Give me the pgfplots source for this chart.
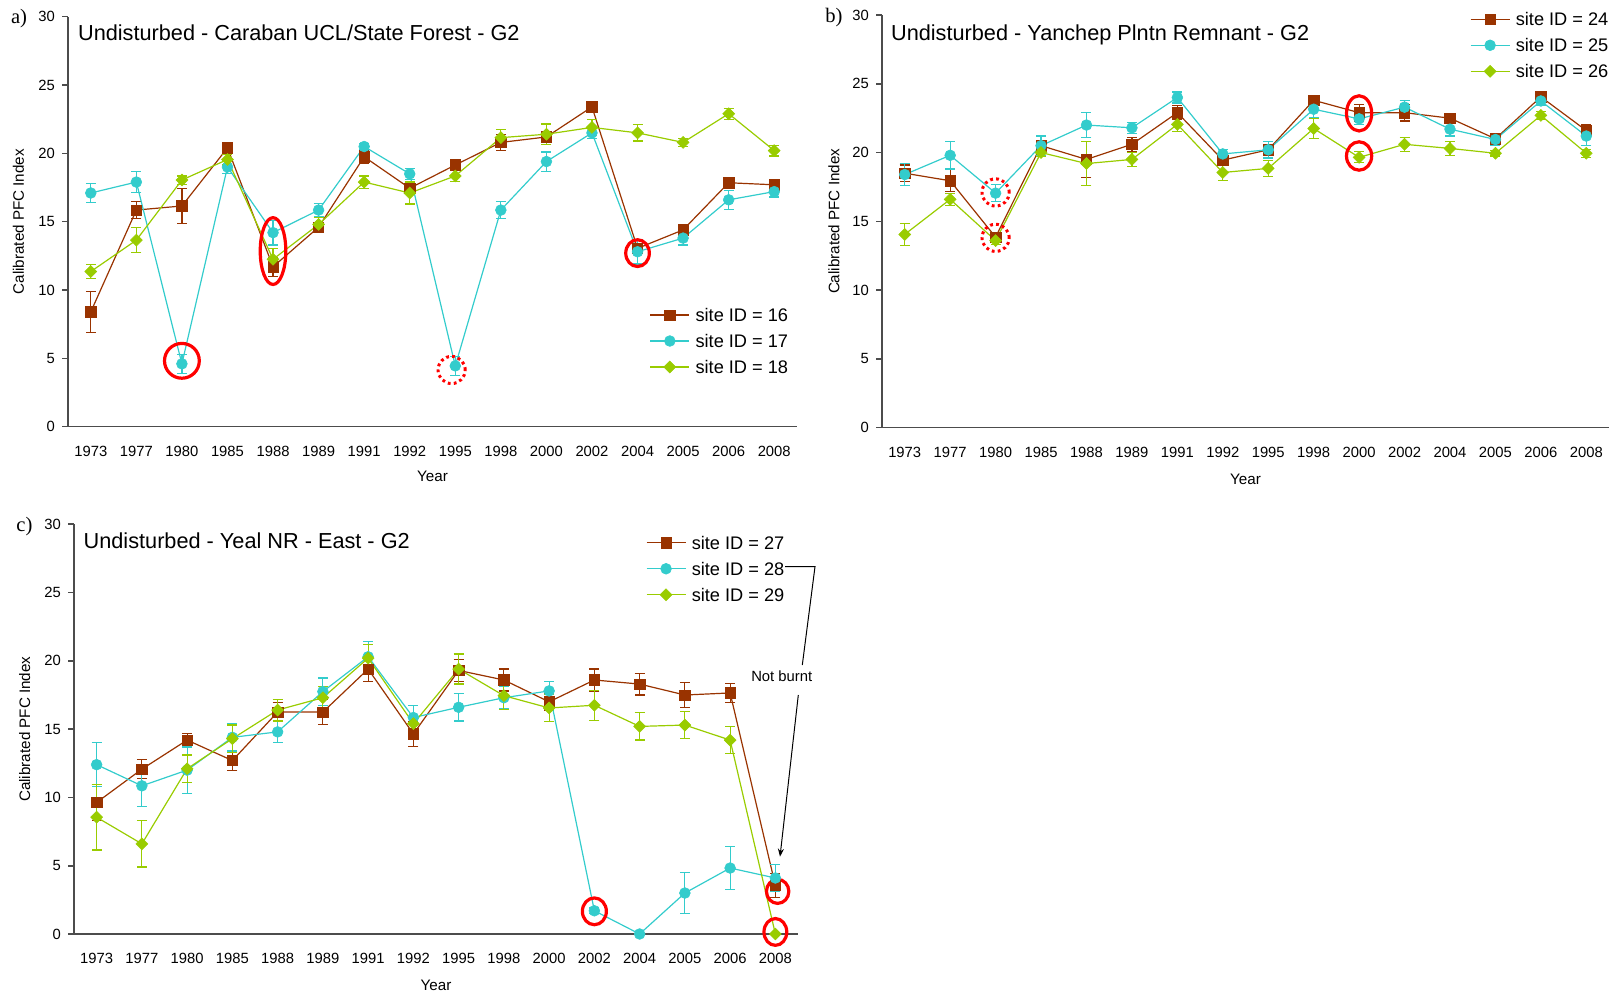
\documentclass[border=0pt]{standalone}
\usepackage{pgfplots}
\pgfplotsset{compat=1.18}
\usepackage{pgfplotstable}
\usepackage{fontspec}
\setmainfont{Liberation Sans}
\newfontfamily\timesfont{Liberation Serif}
\usetikzlibrary{arrows.meta}
\definecolor{cbrown}{HTML}{993300}
\definecolor{ccyan}{HTML}{33CCCC}
\definecolor{cgreen}{HTML}{99CC00}

\pgfplotstableread{
x a ea b eb c ec
0 8.4 1.5 17.1 0.7 11.35 0.5
1 15.85 0.6 17.9 0.75 13.65 0.9
2 16.15 1.3 4.6 0.7 18.05 0.3
3 20.4 0.3 19.0 0.5 19.55 0.4
4 11.7 0.7 14.2 0.9 12.25 0.8
5 14.6 0.3 15.85 0.5 14.8 0.5
6 19.75 0.5 20.5 0.2 17.9 0.45
7 17.45 0.4 18.5 0.4 17.1 0.8
8 19.15 0.2 4.45 0.7 18.35 0.4
9 20.8 0.6 15.85 0.6 21.15 0.6
10 21.2 0.4 19.4 0.7 21.4 0.75
11 23.4 0.2 21.5 0.4 21.9 0.6
12 13.05 0.3 12.8 0.9 21.5 0.6
13 14.4 0.3 13.8 0.5 20.8 0.3
14 17.85 0.4 16.6 0.7 22.9 0.4
15 17.7 0.3 17.2 0.4 20.2 0.4
}\tabA

\pgfplotstableread{
x a ea b eb c ec
0 18.5 0.6 18.4 0.8 14.05 0.8
1 17.95 0.8 19.8 1.0 16.6 0.45
2 13.85 0.3 17.05 0.6 13.6 0.3
3 20.5 0.4 20.5 0.7 20.0 0.3
4 19.5 1.3 22.0 0.9 19.2 1.6
5 20.6 0.5 21.8 0.4 19.5 0.5
6 22.9 0.5 24.0 0.4 22.05 0.5
7 19.45 0.4 19.9 0.35 18.55 0.6
8 20.2 0.3 20.2 0.6 18.85 0.6
9 23.8 0.3 23.15 0.6 21.75 0.7
10 22.9 0.6 22.45 0.4 19.65 0.4
11 22.9 0.6 23.3 0.5 20.6 0.5
12 22.5 0.3 21.7 0.5 20.3 0.5
13 21.0 0.3 20.95 0.4 19.95 0.2
14 24.05 0.3 23.75 0.3 22.7 0.3
15 21.6 0.4 21.2 0.7 19.95 0.3
}\tabB

\pgfplotstableread{
x a ea b eb c ec
0 9.63 1.3 12.4 1.6 8.55 2.4
1 12.07 0.7 10.85 1.5 6.6 1.7
2 14.2 0.5 12.0 1.7 12.1 1.0
3 12.7 0.7 14.4 1.0 14.3 1.0
4 16.25 0.7 14.8 0.8 16.4 0.8
5 16.25 0.9 17.75 1.0 17.3 0.8
6 19.4 0.9 20.3 1.1 20.2 1.0
7 14.65 0.9 15.85 0.9 15.4 0.5
8 19.3 0.8 16.6 1.0 19.4 1.1
9 18.6 0.8 17.3 0.8 17.45 1.0
10 17.0 0.6 17.8 0.7 16.55 1.0
11 18.6 0.8 1.7 0.2 16.75 1.1
12 18.3 0.8 0.0 0.0 15.2 1.0
13 17.5 0.9 3.0 1.5 15.3 1.0
14 17.65 0.7 4.83 1.6 14.2 1.0
15 3.55 0.9 4.1 1.0 0.0 0.0
}\tabC

\tikzset{
 solidring/.style={red, line width=1.6pt},
 dotring/.style={red, line width=1.5pt, dash pattern=on 1.4pt off 1.6pt},
}

\pgfplotsset{
 panel/.style={
  scale only axis,
  anchor=south west,
  axis lines=left,
  axis line style={-, line width=0.8pt, black!70},
  xmin=-0.5, xmax=15.5, ymin=0, ymax=30,
  xtick={0,...,15},
  xticklabels={1973,1977,1980,1985,1988,1989,1991,1992,1995,1998,2000,2002,2004,2005,2006,2008},
  x tick style={draw=none},
  minor xtick={0.5,1.5,...,15.5},
  minor x tick style={line width=0.8pt, black!70},
  minor tick length=2.2pt,
  tick align=inside,
  ytick={0,5,...,30},
  major tick length=3pt,
  y tick style={line width=0.8pt, black!70, xshift=-3pt},
  yticklabel style={xshift=-3pt},
  tick label style={font=\fontsize{7.4}{8}\selectfont},
  xticklabel style={yshift=-6pt},
  /pgf/number format/assume math mode=true,
  label style={font=\fontsize{7.6}{9}\selectfont},
  ylabel={Calibrated PFC Index},
  xlabel={Year},
  clip=false,
  legend style={draw=none, fill=none, font=\fontsize{9.1}{11}\selectfont,
    anchor=north west, inner sep=0pt, outer sep=0pt, row sep=6.4pt,
    nodes={inner sep=0pt, text height=6.6pt, text depth=0pt},
    /tikz/every odd column/.append style={column sep=2.8pt}},
  legend cell align=left,
  legend image code/.code={\draw[mark repeat=2,mark phase=2] plot coordinates {(0pt,0pt) (9.75pt,0pt) (19.5pt,0pt)};},
 },
 sA/.style={cbrown, line width=0.6pt, mark=square*, mark size=2.6pt,
   mark options={solid, fill=cbrown, draw=cbrown, line width=0.3pt},
   error bars/.cd, y dir=both, y explicit,
   error bar style={line width=0.6pt, cbrown},
   error mark options={rotate=90, mark size=2.5pt, line width=0.6pt, cbrown}},
 sB/.style={ccyan, line width=0.6pt, mark=*, mark size=2.7pt,
   mark options={solid, fill=ccyan, draw=ccyan, line width=0.3pt},
   error bars/.cd, y dir=both, y explicit,
   error bar style={line width=0.6pt, ccyan},
   error mark options={rotate=90, mark size=2.5pt, line width=0.6pt, ccyan}},
 sC/.style={cgreen, line width=0.6pt, mark=square*, mark size=2.1pt,
   mark options={solid, fill=cgreen, draw=cgreen, rotate=45, line width=0.3pt},
   error bars/.cd, y dir=both, y explicit,
   error bar style={line width=0.6pt, cgreen},
   error mark options={rotate=90, mark size=2.5pt, line width=0.6pt, cgreen}},
}

\begin{document}
\begin{tikzpicture}
\useasboundingbox (0,0) rectangle (805.5pt,497.5pt);

% ---------------- panel a ----------------
\begin{axis}[panel, at={(34pt,284.15pt)}, width=364.5pt, height=205pt,
  xlabel style={at={(axis description cs:0.5,-0.120)}, anchor=center},
  ylabel style={at={(axis description cs:-0.068,0.5)}, anchor=center},
  legend style={at={(0.798,0.2885)}}]
\addplot[sA] table[x=x, y=a, y error=ea] {\tabA};
\addplot[sB] table[x=x, y=b, y error=eb] {\tabA};
\addplot[sC] table[x=x, y=c, y error=ec] {\tabA};
\legend{site ID = 16, site ID = 17, site ID = 18}
\draw[solidring] (axis cs:2,4.82) ellipse [x radius=8.7pt, y radius=8.7pt];
\draw[solidring] (axis cs:4,12.85) ellipse [x radius=6.4pt, y radius=16.7pt];
\draw[dotring] (axis cs:7.92,4.15) ellipse [x radius=6.8pt, y radius=6.8pt];
\draw[solidring] (axis cs:12,12.7) ellipse [x radius=5.9pt, y radius=6.7pt];
\end{axis}

% ---------------- panel b ----------------
\begin{axis}[panel, at={(441pt,283.65pt)}, width=363.5pt, height=206.35pt,
  xlabel style={at={(axis description cs:0.5,-0.124)}, anchor=center},
  ylabel style={at={(axis description cs:-0.066,0.5)}, anchor=center},
  legend style={at={(0.8088,1.0056)}}]
\addplot[sA] table[x=x, y=a, y error=ea] {\tabB};
\addplot[sB] table[x=x, y=b, y error=eb] {\tabB};
\addplot[sC] table[x=x, y=c, y error=ec] {\tabB};
\legend{site ID = 24, site ID = 25, site ID = 26}
\draw[dotring] (axis cs:2,17.1) ellipse [x radius=6.8pt, y radius=6.8pt];
\draw[dotring] (axis cs:2,13.8) ellipse [x radius=6.8pt, y radius=6.8pt];
\draw[solidring] (axis cs:10,22.85) ellipse [x radius=6.3pt, y radius=8.8pt];
\draw[solidring] (axis cs:10,19.75) ellipse [x radius=6.3pt, y radius=7.1pt];
\end{axis}

% ---------------- panel c ----------------
\begin{axis}[panel, at={(37pt,30.5pt)}, width=362pt, height=204.85pt,
  xlabel style={at={(axis description cs:0.5,-0.1245)}, anchor=center},
  ylabel style={at={(axis description cs:-0.068,0.5)}, anchor=center},
  legend style={at={(0.790,0.971)}}]
\addplot[sA] table[x=x, y=a, y error=ea] {\tabC};
\addplot[sB] table[x=x, y=b, y error=eb] {\tabC};
\addplot[sC] table[x=x, y=c, y error=ec] {\tabC};
\legend{site ID = 27, site ID = 28, site ID = 29}
\draw[solidring] (axis cs:11,1.66) ellipse [x radius=6.0pt, y radius=6.7pt];
\draw[solidring] (axis cs:15.05,3.12) ellipse [x radius=5.6pt, y radius=6.0pt];
\draw[solidring] (axis cs:15,0.15) ellipse [x radius=5.7pt, y radius=6.7pt];
\end{axis}

% titles and panel letters
\node[anchor=base west, inner sep=0pt, font=\fontsize{10.85}{12}\selectfont] at (38.85pt,477.15pt) {Undisturbed - Caraban UCL/State Forest - G2};
\node[anchor=base west, inner sep=0pt, font=\fontsize{10.85}{12}\selectfont] at (445.35pt,477.15pt) {Undisturbed - Yanchep Plntn Remnant - G2};
\node[anchor=base west, inner sep=0pt, font=\fontsize{10.85}{12}\selectfont] at (41.65pt,223pt) {Undisturbed - Yeal NR - East - G2};
\node[anchor=base west, inner sep=0pt, font=\timesfont\fontsize{10.3}{12}\selectfont] at (5.35pt,485.5pt) {a)};
\node[anchor=base west, inner sep=0pt, font=\timesfont\fontsize{10.3}{12}\selectfont] at (412.5pt,486.15pt) {b)};
\node[anchor=base west, inner sep=0pt, font=\timesfont\fontsize{10.3}{12}\selectfont] at (8pt,231.65pt) {c)};

% Not burnt annotation
\draw[black, line width=0.5pt] (392.5pt,214.15pt) -- (407.5pt,214.15pt) -- (401.15pt,165pt);
\draw[black, line width=0.5pt, -{Stealth[length=4pt,width=3pt]}] (399.15pt,150pt) -- (390pt,69.15pt);
\node[inner sep=0pt, font=\fontsize{7.4}{9}\selectfont] at (390.85pt,159.5pt) {Not burnt};
\end{tikzpicture}
\end{document}
